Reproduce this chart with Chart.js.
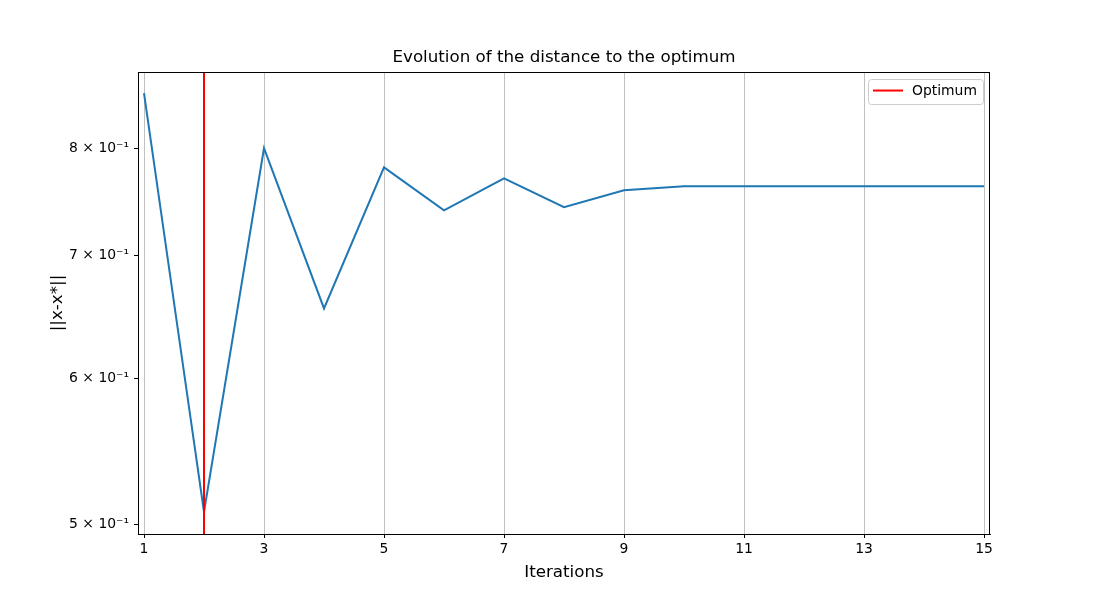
<!DOCTYPE html>
<html>
<head>
<meta charset="utf-8">
<script src="https://cdn.jsdelivr.net/npm/chart.js@4/dist/chart.umd.min.js"></script>
<style>
  html, body { margin: 0; padding: 0; background: #fff; }
  #wrap { width: 1100px; height: 600px; }
</style>
</head>
<body>
<div id="wrap"><canvas id="chart" width="1100" height="600"></canvas></div>
<script>
// values
const iterations = [1, 2, 3, 4, 5, 6, 7, 8, 9, 10, 11, 12, 13, 14, 15];
const distance = [0.8569, 0.5081, 0.8000, 0.6550, 0.7811, 0.7404, 0.7705, 0.7432,
                  0.7591, 0.7629, 0.7629, 0.7629, 0.7629, 0.7629, 0.7629];
const optimumIter = 2;
const xTicks = [1, 3, 5, 7, 9, 11, 13, 15];
const yTicks = [0.5, 0.6, 0.7, 0.8];
const yMin = 0.4943, yMax = 0.8798;
const xMin = 0.9, xMax = 15.1;

const font = 'DejaVu Sans';

// box around the axes + legend drawn inside the plot, like matplotlib
const frameAndLegend = {
  id: 'frameAndLegend',
  afterDatasetsDraw(chart) {
    const { ctx, chartArea: a } = chart;
    ctx.save();
    ctx.strokeStyle = '#000';
    ctx.lineWidth = 1;
    ctx.strokeRect(Math.round(a.left) + 0.5, Math.round(a.top) + 0.5,
      Math.round(a.right - a.left) - 1, Math.round(a.bottom - a.top));

    // legend
    const lx = a.right - 122, ly = a.top + 7, lw = 115, lh = 25;
    ctx.beginPath();
    ctx.roundRect(lx + 0.5, ly + 0.5, lw, lh, 3);
    ctx.fillStyle = 'rgba(255,255,255,0.8)';
    ctx.fill();
    ctx.strokeStyle = '#cccccc';
    ctx.stroke();
    const ds = chart.data.datasets[1];
    ctx.beginPath();
    ctx.moveTo(lx + 5, ly + 11.5);
    ctx.lineTo(lx + 35, ly + 11.5);
    ctx.strokeStyle = ds.borderColor;
    ctx.lineWidth = 2;
    ctx.stroke();
    ctx.fillStyle = '#000';
    ctx.font = '13.9px ' + font;
    ctx.textBaseline = 'middle';
    ctx.fillText(ds.label, lx + 44, ly + 12);
    ctx.restore();
  }
};

const ctx = document.getElementById('chart').getContext('2d');
Chart.defaults.font.family = font;
Chart.defaults.color = '#000';

new Chart(ctx, {
  type: 'line',
  data: {
    datasets: [{
      label: 'distance',
      data: iterations.map((it, i) => ({ x: it, y: distance[i] })),
      borderColor: '#1f77b4',
      borderWidth: 2,
      pointRadius: 0,
      tension: 0,
      order: 1
    }, {
      label: 'Optimum',
      data: [{ x: optimumIter, y: yMin }, { x: optimumIter, y: yMax }],
      borderColor: 'red',
      borderWidth: 2,
      pointRadius: 0,
      order: 0
    }]
  },
  options: {
    responsive: false,
    animation: false,
    layout: { padding: { left: 0, right: 110, top: 0, bottom: 0 } },
    plugins: {
      legend: { display: false },
      tooltip: { enabled: false },
      title: {
        display: true,
        fullSize: false,
        text: 'Evolution of the distance to the optimum',
        font: { size: 16.7, weight: 'normal' },
        color: '#000',
        padding: { top: 48, bottom: 4 }
      }
    },
    scales: {
      x: {
        type: 'linear',
        min: xMin,
        max: xMax,
        afterBuildTicks(scale) { scale.ticks = xTicks.map(v => ({ value: v })); },
        afterFit(scale) { scale.height = 66; },
        ticks: { font: { size: 13.9 }, padding: 3, autoSkip: false, maxRotation: 0 },
        grid: { color: '#b0b0b0', lineWidth: 0.8, tickColor: '#000', tickLength: 4, tickWidth: 1 },
        border: { display: true, color: '#000', width: 1 },
        title: {
          display: true,
          text: 'Iterations',
          font: { size: 16.7 },
          padding: { top: 0, bottom: 17 }
        }
      },
      y: {
        type: 'logarithmic',
        min: yMin,
        max: yMax,
        afterBuildTicks(scale) { scale.ticks = yTicks.map(v => ({ value: v })); },
        afterFit(scale) { scale.width = 138; },
        ticks: {
          font: { size: 13.9 },
          padding: 5,
          callback: v => Math.round(v * 10) + ' \u00d7 10\u207b\u00b9'
        },
        grid: { color: 'rgba(0,0,0,0)', tickColor: '#000', tickLength: 4, tickWidth: 1 },
        border: { display: true, color: '#000', width: 1 },
        title: {
          display: true,
          text: '||x-x*||',
          font: { size: 16.7 },
          padding: { top: 48, bottom: 0 }
        }
      }
    }
  },
  plugins: [frameAndLegend]
});
</script>
</body>
</html>
